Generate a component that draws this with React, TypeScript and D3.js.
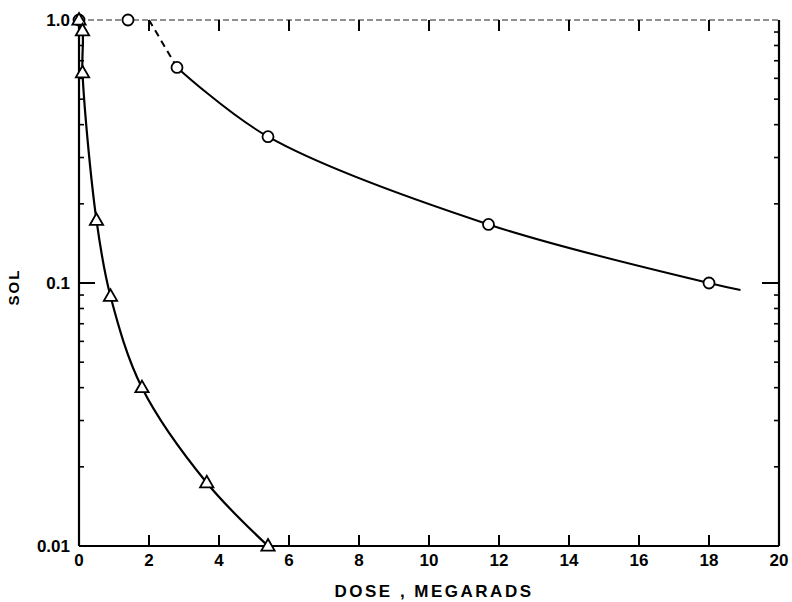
import * as d3 from "d3";

const width = 792;
const height = 602;
const marginTop = 20;
const marginRight = 13;
const marginBottom = 56;
const marginLeft = 79;

// dose (megarads) vs sol fraction
const circleDose = [0, 1.4, 2.8, 5.4, 11.7, 18];
const circleSol = [1.0, 1.0, 0.66, 0.36, 0.167, 0.1];
const circleCurveDose = [2.8, 5.4, 11.7, 18, 18.9];
const circleCurveSol = [0.66, 0.36, 0.167, 0.1, 0.094];
const dashedDose = [2.0, 2.8];
const dashedSol = [1.0, 0.66];

const triangleDose = [0, 0.1, 0.1, 0.5, 0.9, 1.8, 3.65, 5.4];
const triangleSol = [1.0, 0.91, 0.63, 0.173, 0.089, 0.04, 0.0174, 0.01];

const xTicks = [0, 2, 4, 6, 8, 10, 12, 14, 16, 18, 20];
const yTickValues = [1.0, 0.1, 0.01];
const yTickLabels = ["1.0", "0.1", "0.01"];
const yMinorTicks = [0.02, 0.03, 0.04, 0.05, 0.06, 0.07, 0.08, 0.09, 0.2, 0.3, 0.4, 0.5, 0.6, 0.7, 0.8, 0.9];

const font = "'Liberation Sans', Arial, sans-serif";

const App = () => {
  const x = d3.scaleLinear().domain([0, 20]).range([marginLeft, width - marginRight]);
  const y = d3.scaleLog().domain([0.01, 1]).range([height - marginBottom, marginTop]);

  const x0 = x(0);
  const x1 = x(20);
  const y0 = y(0.01);
  const y1 = y(1);

  const line = d3
    .line<[number, number]>()
    .x((d) => x(d[0]))
    .y((d) => y(d[1]))
    .curve(d3.curveCatmullRom.alpha(0.5));

  const straight = d3
    .line<[number, number]>()
    .x((d) => x(d[0]))
    .y((d) => y(d[1]));

  const circleCurve = circleCurveDose.map((d, i) => [d, circleCurveSol[i]] as [number, number]);
  const dashed = dashedDose.map((d, i) => [d, dashedSol[i]] as [number, number]);
  const triCurve = triangleDose.map((d, i) => [d, triangleSol[i]] as [number, number]);

  const tri = (cx: number, cy: number, s = 7) =>
    `M${cx},${cy - s} L${cx + s * 0.95},${cy + s * 0.65} L${cx - s * 0.95},${cy + s * 0.65} Z`;

  return (
    <svg
      width={width}
      height={height}
      viewBox={`0 0 ${width} ${height}`}
      style={{ position: "absolute", left: 0, top: 0, background: "#fff" }}
    >
      {/* frame */}
      <line x1={x0} x2={x1} y1={y1} y2={y1} stroke="#222" strokeWidth={1.2} strokeDasharray="6,3" />
      <line x1={x0} x2={x1} y1={y0} y2={y0} stroke="#000" strokeWidth={2.2} />
      <line x1={x0} x2={x0} y1={y1} y2={y0} stroke="#000" strokeWidth={2.2} />
      <line x1={x1} x2={x1} y1={y1} y2={y0} stroke="#000" strokeWidth={2.2} />

      {/* x ticks, bottom and top */}
      {xTicks.slice(1, -1).map((t) => (
        <g key={`xt${t}`}>
          <line x1={x(t)} x2={x(t)} y1={y0} y2={y0 - 11} stroke="#000" strokeWidth={2} />
          <line x1={x(t)} x2={x(t)} y1={y1} y2={y1 + 11} stroke="#000" strokeWidth={2} />
        </g>
      ))}
      {xTicks.map((t) => (
        <text
          key={`xl${t}`}
          x={x(t)}
          y={y0 + 20}
          textAnchor="middle"
          fontFamily={font}
          fontWeight="bold"
          fontSize={17}
        >
          {t}
        </text>
      ))}

      {/* y ticks, left and right */}
      {yMinorTicks.map((t) => (
        <g key={`ym${t}`}>
          <line x1={x0} x2={x0 + 5} y1={y(t)} y2={y(t)} stroke="#000" strokeWidth={1.6} />
          <line x1={x1} x2={x1 - 5} y1={y(t)} y2={y(t)} stroke="#000" strokeWidth={1.6} />
        </g>
      ))}
      <line x1={x0} x2={x0 + 16} y1={y(0.1)} y2={y(0.1)} stroke="#000" strokeWidth={2} />
      <line x1={x1} x2={x1 - 17} y1={y(0.1)} y2={y(0.1)} stroke="#000" strokeWidth={2} />
      {yTickValues.map((t, i) => (
        <text
          key={`yl${t}`}
          x={x0 - 9}
          y={y(t)}
          dy="0.36em"
          textAnchor="end"
          fontFamily={font}
          fontWeight="bold"
          fontSize={17}
        >
          {yTickLabels[i]}
        </text>
      ))}

      {/* axis titles */}
      <text
        x={434}
        y={y0 + 51}
        textAnchor="middle"
        fontFamily={font}
        fontWeight="bold"
        fontSize={17}
        letterSpacing={2.5}
      >
        DOSE , MEGARADS
      </text>
      <text
        transform={`translate(19, ${y(0.1) + 4}) rotate(-90)`}
        textAnchor="middle"
        fontFamily={font}
        fontWeight="bold"
        fontSize={15}
        letterSpacing={2}
      >
        SOL
      </text>

      {/* curves */}
      <path d={line(circleCurve) as string} fill="none" stroke="#000" strokeWidth={2} />
      <path d={straight(dashed) as string} fill="none" stroke="#000" strokeWidth={2} strokeDasharray="7,5" />
      <path d={line(triCurve) as string} fill="none" stroke="#000" strokeWidth={2.2} />

      {/* markers */}
      {circleDose.map((d, i) => (
        <circle
          key={`c${i}`}
          cx={x(d)}
          cy={y(circleSol[i])}
          r={5.5}
          fill="#fff"
          stroke="#000"
          strokeWidth={1.8}
        />
      ))}
      {triangleDose.map((d, i) => (
        <path
          key={`t${i}`}
          d={tri(x(d), y(triangleSol[i]))}
          fill="#fff"
          stroke="#000"
          strokeWidth={1.8}
        />
      ))}
    </svg>
  );
};

export default App;
